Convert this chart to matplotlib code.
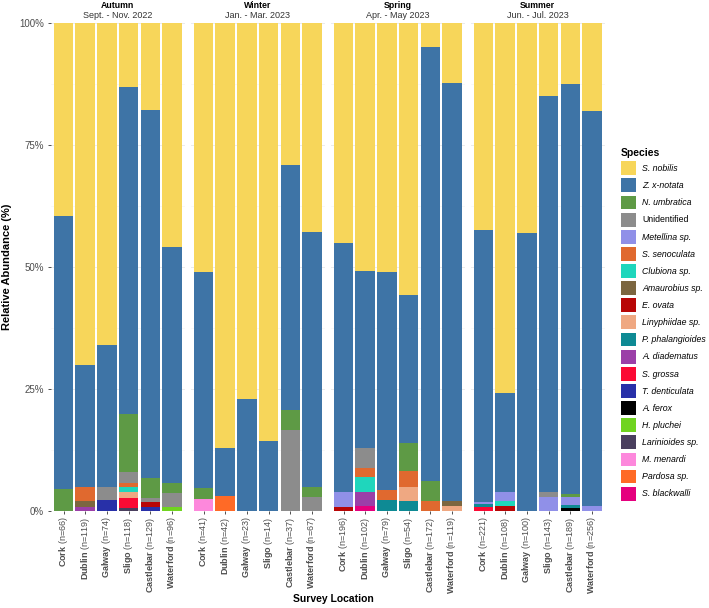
import matplotlib
matplotlib.use('Agg')
import matplotlib.pyplot as plt
from matplotlib.patches import Patch
from matplotlib.ticker import FixedLocator
import numpy as np

plt.rcParams['font.family'] = ['Liberation Sans', 'DejaVu Sans']
plt.rcParams['mathtext.fontset'] = 'custom'
plt.rcParams['mathtext.rm'] = 'Liberation Sans'
plt.rcParams['mathtext.bf'] = 'Liberation Sans:bold'
plt.rcParams['mathtext.it'] = 'Liberation Sans:italic'

# ---------------- data ----------------
seasons = ["Autumn", "Winter", "Spring", "Summer"]
periods = ["Sept. - Nov. 2022", "Jan. - Mar. 2023", "Apr. - May 2023", "Jun. - Jul. 2023"]
locations = ["Cork", "Dublin", "Galway", "Sligo", "Castlebar", "Waterford"]
n_autumn = [66, 119, 74, 118, 129, 96]
n_winter = [41, 42, 23, 14, 37, 67]
n_spring = [196, 102, 79, 54, 172, 119]
n_summer = [221, 108, 100, 143, 189, 256]

species = ["S. nobilis", "Z. x-notata", "N. umbratica", "Unidentified", "Metellina sp.",
           "S. senoculata", "Clubiona sp.", "Amaurobius sp.", "E. ovata", "Linyphiidae sp.",
           "P. phalangioides", "A. diadematus", "S. grossa", "T. denticulata", "A. ferox",
           "H. pluchei", "Larinioides sp.", "M. menardi", "Pardosa sp.", "S. blackwalli"]
colors = ["#F7D65A", "#3E74A6", "#5E9A45", "#8C8C8C", "#9090E8",
          "#E0692F", "#1FD6BC", "#7C6640", "#B80606", "#EFA882",
          "#0E8A94", "#9B3FA8", "#FB0A34", "#2830A8", "#000000",
          "#70D420", "#4A3F5E", "#FD88DC", "#FF6A26", "#E5007E"]

# relative abundance (%) ; order: Autumn(6) Winter(6) Spring(6) Summer(6)
s_nobilis      = [39.5, 70.1, 66.0, 13.1, 17.8, 46.0,  51.0, 87.1, 77.0, 85.7, 29.1, 42.8,  45.1, 50.8, 51.0, 55.8, 4.9, 12.3,  42.4, 75.9, 43.0, 15.0, 12.5, 18.0]
z_xnotata      = [56.0, 24.9, 29.0, 67.0, 75.4, 48.2,  44.2, 9.9, 23.0, 14.3, 50.2, 52.3,  51.1, 36.3, 44.7, 30.2, 89.0, 85.7,  55.8, 20.2, 57.0, 81.1, 84.0, 81.0]
n_umbratica    = [4.5, 0, 0, 12.0, 4.1, 2.1,  2.4, 0, 0, 0, 4.2, 2.0,  0, 0, 0, 5.9, 4.0, 0,  0, 0, 0, 0, 0.6, 0]
unidentified   = [0, 0, 2.8, 2.2, 0.9, 2.9,  0, 0, 0, 0, 16.5, 2.9,  0, 4.0, 0, 0, 0, 0,  0, 0, 0, 1.0, 0, 0]
metellina      = [0, 0, 0, 0, 0, 0,  0, 0, 0, 0, 0, 0,  3.0, 0, 0, 0, 0, 0,  0.45, 1.9, 0, 2.95, 1.8, 1.0]
s_senoculata   = [0, 2.9, 0, 0.9, 0, 0,  0, 0, 0, 0, 0, 0,  0, 2.0, 2.0, 3.1, 2.05, 0,  0, 0, 0, 0, 0, 0]
clubiona       = [0, 0, 0, 0.94, 0, 0,  0, 0, 0, 0, 0, 0,  0, 3.0, 0, 0, 0, 0,  0, 1.0, 0, 0, 0, 0]
amaurobius     = [0, 1.2, 0, 0, 0, 0,  0, 0, 0, 0, 0, 0,  0, 0, 0, 0, 0, 1.0,  0, 0, 0, 0, 0, 0]
e_ovata        = [0, 0, 0, 0, 1.1, 0,  0, 0, 0, 0, 0, 0,  0.8, 0, 0, 0, 0, 0,  0, 1.0, 0, 0, 0, 0]
linyphiidae    = [0, 0, 0, 1.3, 0, 0,  0, 0, 0, 0, 0, 0,  0, 0, 0, 2.95, 0, 1.0,  0, 0, 0, 0, 0, 0]
p_phalangioides= [0, 0, 0, 0, 0, 0,  0, 0, 0, 0, 0, 0,  0, 0, 2.3, 2.05, 0, 0,  0.45, 0, 0, 0, 0.55, 0]
a_diadematus   = [0, 0.9, 0, 0, 0, 0,  0, 0, 0, 0, 0, 0,  0, 2.95, 0, 0, 0, 0,  0, 0, 0, 0, 0, 0]
s_grossa       = [0, 0, 0, 2.0, 0, 0,  0, 0, 0, 0, 0, 0,  0, 0, 0, 0, 0, 0,  0.9, 0, 0, 0, 0, 0]
t_denticulata  = [0, 0, 2.2, 0, 0.76, 0,  0, 0, 0, 0, 0, 0,  0, 0, 0, 0, 0, 0,  0, 0, 0, 0, 0, 0]
a_ferox        = [0, 0, 0, 0, 0, 0,  0, 0, 0, 0, 0, 0,  0, 0, 0, 0, 0, 0,  0, 0, 0, 0, 0.6, 0]
h_pluchei      = [0, 0, 0, 0, 0, 0.8,  0, 0, 0, 0, 0, 0,  0, 0, 0, 0, 0, 0,  0, 0, 0, 0, 0, 0]
larinioides    = [0, 0, 0, 0.6, 0, 0,  0, 0, 0, 0, 0, 0,  0, 0, 0, 0, 0, 0,  0, 0, 0, 0, 0, 0]
m_menardi      = [0, 0, 0, 0, 0, 0,  2.4, 0, 0, 0, 0, 0,  0, 0, 0, 0, 0, 0,  0, 0, 0, 0, 0, 0]
pardosa        = [0, 0, 0, 0, 0, 0,  0, 3.0, 0, 0, 0, 0,  0, 0, 0, 0, 0, 0,  0, 0, 0, 0, 0, 0]
s_blackwalli   = [0, 0, 0, 0, 0, 0,  0, 0, 0, 0, 0, 0,  0, 0.95, 0, 0, 0, 0,  0, 0, 0, 0, 0, 0]

series = [s_nobilis, z_xnotata, n_umbratica, unidentified, metellina, s_senoculata, clubiona,
          amaurobius, e_ovata, linyphiidae, p_phalangioides, a_diadematus, s_grossa,
          t_denticulata, a_ferox, h_pluchei, larinioides, m_menardi, pardosa, s_blackwalli]
n_counts = [n_autumn, n_winter, n_spring, n_summer]

# ---------------- figure ----------------
W, H = 709, 608
fig = plt.figure(figsize=(W / 100, H / 100), dpi=100)
fig.patch.set_facecolor('white')

tick_col = '#4D4D4D'
for i, season in enumerate(seasons):
    ax = fig.add_axes([(50.5 + 140 * i) / W, 97 / H, 134.5 / W, 488 / H])
    x = np.arange(len(locations))
    bottom = np.zeros(len(locations))
    for sp, col, vals in reversed(list(zip(species, colors, series))):
        v = np.array(vals[6 * i:6 * i + 6], dtype=float)
        ax.bar(x, v, 0.9, bottom=bottom, color=col, linewidth=0, zorder=2)
        bottom += v
    ax.set_xlim(-0.6, 5.6)
    ax.set_ylim(0, 100)
    ax.yaxis.set_major_locator(FixedLocator([0, 25, 50, 75, 100]))
    ax.yaxis.set_minor_locator(FixedLocator([12.5, 37.5, 62.5, 87.5]))
    ax.grid(True, axis='y', which='major', color='#EBEBEB', lw=0.7, zorder=0)
    ax.grid(True, axis='y', which='minor', color='#F5F5F5', lw=0.5, zorder=0)
    ax.set_axisbelow(True)
    for s in ax.spines.values():
        s.set_visible(False)
    ax.set_xticks(x)
    ax.set_xticklabels([f"$\\bf{{{loc}}}$ (n={n})" for loc, n in zip(locations, n_counts[i])],
                       rotation=90, fontsize=6.5, color=tick_col)
    ax.tick_params(axis='x', length=2.5, width=0.6, color='#333333', pad=1.5)
    ax.tick_params(axis='y', which='minor', length=0)
    if i == 0:
        ax.set_yticklabels(["0%", "25%", "50%", "75%", "100%"], fontsize=7, color=tick_col)
        ax.tick_params(axis='y', which='major', length=2.5, width=0.6, color='#333333', pad=2)
        ax.set_ylabel("Relative Abundance (%)", fontsize=8, fontweight='bold', labelpad=5)
    else:
        ax.tick_params(axis='y', which='major', length=0, labelleft=False)
    ax.text(0.5, 1.0 + 18 / 488, season, transform=ax.transAxes, ha='center', va='center',
            fontsize=6.3, fontweight='bold', color='black')
    ax.text(0.5, 1.0 + 7.5 / 488, periods[i], transform=ax.transAxes, ha='center', va='center',
            fontsize=6.5, color='#333333')

fig.text(333 / W, 1 - 599 / H, "Survey Location", ha='center', va='center',
         fontsize=7.5, fontweight='bold')

handles = [Patch(facecolor=c, edgecolor='none') for c in colors]
leg = fig.legend(handles, species, loc='upper left', bbox_to_anchor=(621 / W, 1 - 148 / H),
                 frameon=False, prop={'style': 'italic', 'size': 6.3},
                 title='Species', title_fontproperties={'weight': 'bold', 'size': 7.5},
                 handlelength=1.7, handleheight=2.05, labelspacing=0.38, handletextpad=0.75,
                 borderpad=0, borderaxespad=0, alignment='left')
for t in leg.get_texts():
    if t.get_text() == 'Unidentified':
        t.set_style('normal')

fig.savefig('out.png', dpi=100)
